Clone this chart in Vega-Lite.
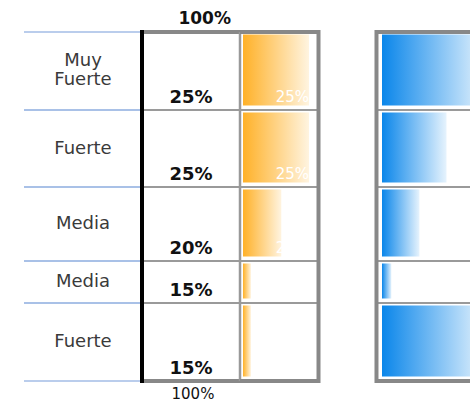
{
  "$schema": "https://vega.github.io/schema/vega-lite/v6.json",
  "padding": {"left": 23, "top": 0, "right": 0, "bottom": 0},
  "background": "#ffffff",
  "config": {
    "view": {"stroke": null},
    "axis": {"disable": true},
    "text": {"font": "DejaVu Sans"}
  },
  "datasets": {
    "rows": [
      {"label": "Muy\nFuerte", "pct": "25%", "y0": 0, "y1": 78, "orange": 100, "blue": 100},
      {"label": "Fuerte", "pct": "25%", "y0": 78, "y1": 155, "orange": 100, "blue": 62},
      {"label": "Media", "pct": "20%", "y0": 155, "y1": 229, "orange": 58, "blue": 36},
      {"label": "Media", "pct": "15%", "y0": 229, "y1": 271, "orange": 12, "blue": 9},
      {"label": "Fuerte", "pct": "15%", "y0": 271, "y1": 349, "orange": 12, "blue": 100}
    ]
  },
  "spacing": 0,
  "bounds": "flush",
  "resolve": {"scale": {"x": "independent", "y": "independent"}},
  "hconcat": [
    {
      "width": 118, "height": 402,
      "data": {"name": "rows"},
      "transform": [{"calculate": "(datum.y0 + datum.y1) / 2", "as": "mid"}],
      "layer": [
        {"mark": {"type": "rule", "color": "#a3bce6", "strokeWidth": 1.5},
         "encoding": {"y": {"field": "y0", "type": "quantitative", "scale": {"domain": [-31, 371], "reverse": true, "nice": false, "zero": false}, "axis": null}}},
        {"mark": {"type": "rule", "color": "#a3bce6", "strokeWidth": 1.5},
         "encoding": {"y": {"field": "y1", "type": "quantitative", "scale": {"domain": [-31, 371], "reverse": true, "nice": false, "zero": false}, "axis": null}}},
        {"transform": [{"filter": "indexof(datum.label, '\\n') < 0"}],
         "mark": {"type": "text", "fontSize": 18, "color": "#3a3a3a", "align": "center", "baseline": "middle"},
         "encoding": {
           "x": {"datum": 0.5, "type": "quantitative", "scale": {"domain": [0, 1], "nice": false, "zero": false}, "axis": null},
           "y": {"field": "mid", "type": "quantitative", "scale": {"domain": [-31, 371], "reverse": true, "nice": false, "zero": false}, "axis": null},
           "text": {"field": "label"}
         }},
        {"transform": [{"filter": "indexof(datum.label, '\\n') >= 0"}],
         "mark": {"type": "text", "fontSize": 18, "color": "#3a3a3a", "align": "center", "baseline": "middle", "lineBreak": "\n", "lineHeight": 19, "dy": -10},
         "encoding": {
           "x": {"datum": 0.5, "type": "quantitative", "scale": {"domain": [0, 1], "nice": false, "zero": false}, "axis": null},
           "y": {"field": "mid", "type": "quantitative", "scale": {"domain": [-31, 371], "reverse": true, "nice": false, "zero": false}, "axis": null},
           "text": {"field": "label"}
         }}
      ]
    },
    {
      "width": 98, "height": 402,
      "data": {"name": "rows"},
      "layer": [
        {"mark": {"type": "rule", "color": "#9a9a9a", "strokeWidth": 2},
         "encoding": {"y": {"field": "y1", "type": "quantitative", "scale": {"domain": [-31, 371], "reverse": true, "nice": false, "zero": false}, "axis": null}}},
        {"mark": {"type": "rule", "color": "#888888", "strokeWidth": 4},
         "encoding": {"y": {"aggregate": "min", "field": "y0", "type": "quantitative", "scale": {"domain": [-31, 371], "reverse": true, "nice": false, "zero": false}, "axis": null}}},
        {"mark": {"type": "rule", "color": "#888888", "strokeWidth": 4},
         "encoding": {"y": {"aggregate": "max", "field": "y1", "type": "quantitative", "scale": {"domain": [-31, 371], "reverse": true, "nice": false, "zero": false}, "axis": null}}},
        {"mark": {"type": "rule", "color": "#999999", "strokeWidth": 2.5},
         "encoding": {
           "x": {"datum": 1, "type": "quantitative", "scale": {"domain": [0, 1], "nice": false, "zero": false}, "axis": null},
           "y": {"aggregate": "min", "field": "y0", "type": "quantitative", "scale": {"domain": [-31, 371], "reverse": true, "nice": false, "zero": false}, "axis": null},
           "y2": {"aggregate": "max", "field": "y1"}
         }},
        {"mark": {"type": "rule", "color": "#000000", "strokeWidth": 4, "strokeCap": "square"},
         "encoding": {
           "x": {"datum": 0, "type": "quantitative", "scale": {"domain": [0, 1], "nice": false, "zero": false}, "axis": null},
           "y": {"aggregate": "min", "field": "y0", "type": "quantitative", "scale": {"domain": [-31, 371], "reverse": true, "nice": false, "zero": false}, "axis": null},
           "y2": {"aggregate": "max", "field": "y1"}
         }},
        {"mark": {"type": "text", "fontWeight": "bold", "fontSize": 18, "align": "center", "baseline": "alphabetic", "dy": -7, "color": "#111111"},
         "encoding": {
           "x": {"datum": 0.5, "type": "quantitative", "scale": {"domain": [0, 1], "nice": false, "zero": false}, "axis": null},
           "y": {"field": "y1", "type": "quantitative", "scale": {"domain": [-31, 371], "reverse": true, "nice": false, "zero": false}, "axis": null},
           "text": {"field": "pct"}
         }},
        {"data": {"values": [{"t": "100%"}]},
         "mark": {"type": "text", "fontWeight": "bold", "fontSize": 17, "align": "center", "baseline": "alphabetic", "color": "#111111"},
         "encoding": {
           "x": {"datum": 0.64, "type": "quantitative", "scale": {"domain": [0, 1], "nice": false, "zero": false}, "axis": null},
           "y": {"datum": -8, "type": "quantitative", "scale": {"domain": [-31, 371], "reverse": true, "nice": false, "zero": false}, "axis": null},
           "text": {"field": "t"}
         }},
        {"data": {"values": [{"t": "100%"}]},
         "mark": {"type": "text", "fontSize": 15, "align": "center", "baseline": "alphabetic", "color": "#111111"},
         "encoding": {
           "x": {"datum": 0.52, "type": "quantitative", "scale": {"domain": [0, 1], "nice": false, "zero": false}, "axis": null},
           "y": {"datum": 366.5, "type": "quantitative", "scale": {"domain": [-31, 371], "reverse": true, "nice": false, "zero": false}, "axis": null},
           "text": {"field": "t"}
         }}
      ]
    },
    {
      "width": 80, "height": 402,
      "data": {"name": "rows"},
      "layer": [
        {"mark": {"type": "rect", "yOffset": 2.5, "y2Offset": -4.5,
                  "color": {"gradient": "linear", "x1": 0, "y1": 0, "x2": 1, "y2": 0,
                            "stops": [{"offset": 0, "color": "#ffb128"}, {"offset": 1, "color": "#fff4e0"}]}},
         "encoding": {
           "x": {"field": "orange", "type": "quantitative", "scale": {"domain": [0, 100], "range": [3, 69], "nice": false, "zero": false}, "axis": null},
           "x2": {"datum": 0},
           "y": {"field": "y0", "type": "quantitative", "scale": {"domain": [-31, 371], "reverse": true, "nice": false, "zero": false}, "axis": null},
           "y2": {"field": "y1"}
         }},
        {"mark": {"type": "text", "align": "right", "baseline": "alphabetic", "dy": -8, "fontSize": 15, "color": "#ffffff"},
         "encoding": {
           "x": {"datum": 100, "type": "quantitative", "scale": {"domain": [0, 100], "range": [3, 69], "nice": false, "zero": false}, "axis": null},
           "y": {"field": "y1", "type": "quantitative", "scale": {"domain": [-31, 371], "reverse": true, "nice": false, "zero": false}, "axis": null},
           "text": {"field": "pct"}
         }},
        {"mark": {"type": "rule", "color": "#9a9a9a", "strokeWidth": 2},
         "encoding": {"y": {"field": "y1", "type": "quantitative", "scale": {"domain": [-31, 371], "reverse": true, "nice": false, "zero": false}, "axis": null}}},
        {"mark": {"type": "rule", "color": "#888888", "strokeWidth": 4},
         "encoding": {"y": {"aggregate": "min", "field": "y0", "type": "quantitative", "scale": {"domain": [-31, 371], "reverse": true, "nice": false, "zero": false}, "axis": null}}},
        {"mark": {"type": "rule", "color": "#888888", "strokeWidth": 4},
         "encoding": {"y": {"aggregate": "max", "field": "y1", "type": "quantitative", "scale": {"domain": [-31, 371], "reverse": true, "nice": false, "zero": false}, "axis": null}}},
        {"mark": {"type": "rule", "color": "#888888", "strokeWidth": 4, "strokeCap": "square"},
         "encoding": {
           "x": {"datum": 114.4, "type": "quantitative", "scale": {"domain": [0, 100], "range": [3, 69], "nice": false, "zero": false}, "axis": null},
           "y": {"aggregate": "min", "field": "y0", "type": "quantitative", "scale": {"domain": [-31, 371], "reverse": true, "nice": false, "zero": false}, "axis": null},
           "y2": {"aggregate": "max", "field": "y1"}
         }}
      ]
    },
    {
      "width": 55, "height": 402,
      "data": {"values": [{"v": 0}]},
      "mark": {"type": "rule", "opacity": 0, "strokeWidth": 0},
      "encoding": {}
    },
    {
      "width": 96, "height": 402,
      "data": {"name": "rows"},
      "layer": [
        {"mark": {"type": "rect", "clip": true, "yOffset": 2.5, "y2Offset": -4.5,
                  "color": {"gradient": "linear", "x1": 0, "y1": 0, "x2": 1, "y2": 0,
                            "stops": [{"offset": 0, "color": "#0a86ea"}, {"offset": 1, "color": "#e6f3fd"}]}},
         "encoding": {
           "x": {"field": "blue", "type": "quantitative", "scale": {"domain": [0, 100], "range": [7, 111], "nice": false, "zero": false}, "axis": null},
           "x2": {"datum": 0},
           "y": {"field": "y0", "type": "quantitative", "scale": {"domain": [-31, 371], "reverse": true, "nice": false, "zero": false}, "axis": null},
           "y2": {"field": "y1"}
         }},
        {"mark": {"type": "text", "clip": true, "align": "right", "baseline": "alphabetic", "dy": -8, "fontSize": 15, "color": "#ffffff"},
         "encoding": {
           "x": {"datum": 118, "type": "quantitative", "scale": {"domain": [0, 100], "range": [7, 111], "nice": false, "zero": false}, "axis": null},
           "y": {"field": "y1", "type": "quantitative", "scale": {"domain": [-31, 371], "reverse": true, "nice": false, "zero": false}, "axis": null},
           "text": {"field": "pct"}
         }},
        {"mark": {"type": "rule", "color": "#9a9a9a", "strokeWidth": 2},
         "encoding": {"y": {"field": "y1", "type": "quantitative", "scale": {"domain": [-31, 371], "reverse": true, "nice": false, "zero": false}, "axis": null}}},
        {"mark": {"type": "rule", "color": "#888888", "strokeWidth": 4},
         "encoding": {"y": {"aggregate": "min", "field": "y0", "type": "quantitative", "scale": {"domain": [-31, 371], "reverse": true, "nice": false, "zero": false}, "axis": null}}},
        {"mark": {"type": "rule", "color": "#888888", "strokeWidth": 4},
         "encoding": {"y": {"aggregate": "max", "field": "y1", "type": "quantitative", "scale": {"domain": [-31, 371], "reverse": true, "nice": false, "zero": false}, "axis": null}}},
        {"mark": {"type": "rule", "color": "#888888", "strokeWidth": 4, "strokeCap": "square"},
         "encoding": {
           "x": {"datum": -5.3, "type": "quantitative", "scale": {"domain": [0, 100], "range": [7, 111], "nice": false, "zero": false}, "axis": null},
           "y": {"aggregate": "min", "field": "y0", "type": "quantitative", "scale": {"domain": [-31, 371], "reverse": true, "nice": false, "zero": false}, "axis": null},
           "y2": {"aggregate": "max", "field": "y1"}
         }}
      ]
    }
  ]
}
